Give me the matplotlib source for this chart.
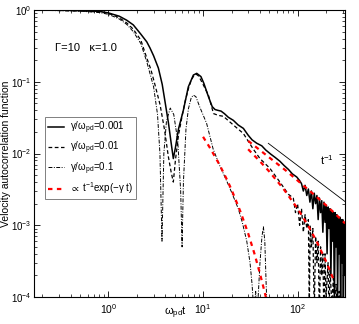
import matplotlib
matplotlib.use("Agg")
import matplotlib.pyplot as plt
from matplotlib.ticker import LogLocator, NullFormatter

plt.rcParams["font.family"] = ["Liberation Sans", "DejaVu Sans"]
plt.rcParams["mathtext.fontset"] = "custom"
plt.rcParams["mathtext.rm"] = "Liberation Sans"
plt.rcParams["mathtext.it"] = "Liberation Sans:italic"
plt.rcParams["mathtext.fallback"] = "stixsans"
plt.rcParams["font.size"] = 8

# %% data
t_solid = [0.163, 0.3, 0.5, 0.7, 0.81, 1.0, 1.3, 1.56, 1.83, 2.2, 2.54, 2.75, 3.0, 3.37, 3.7,
           3.96, 4.3, 4.6, 4.85, 5.1, 5.5, 6.19, 6.99, 7.9, 8.58, 9.5, 10.2, 11.4, 12.5, 13.4,
           14.3, 15.5, 16.8, 18.5, 20.9, 23.5, 26.7, 30, 33, 37, 41.8, 46, 52, 58, 65, 72,
           80, 88, 98, 105,
           110, 115, 120, 125, 130, 135, 140, 145, 150, 155, 160, 165, 170, 175, 180, 185,
           190, 195, 200, 205, 210, 215, 220, 225, 230, 235, 240, 245, 250, 255, 260, 265,
           270, 275, 280, 285, 290, 295, 300, 305, 310, 315, 320]
y_solid = [1.0, 0.995, 0.98, 0.965, 0.955, 0.91, 0.82, 0.72, 0.62, 0.46, 0.36, 0.295, 0.23,
           0.155, 0.092, 0.053, 0.027, 0.014, 0.0085, 0.012, 0.022, 0.040, 0.085, 0.124,
           0.131, 0.118, 0.095, 0.062, 0.045, 0.041, 0.040, 0.039, 0.036, 0.032, 0.029,
           0.025, 0.0224, 0.018, 0.0155, 0.0139, 0.0128, 0.0112, 0.0098, 0.0088, 0.0078,
           0.0068, 0.0060, 0.0052, 0.0047, 0.0042,
           0.0038, 0.0030, 0.0036, 0.0026, 0.0032, 0.0021, 0.0030, 0.0017, 0.0028, 0.0020,
           0.0026, 0.0012, 0.0024, 0.0015, 0.0022, 0.0008, 0.0021, 0.0011, 0.0019, 0.0004,
           0.0018, 0.0009, 0.0017, 0.0002, 0.0016, 0.0006, 0.0015, 0.00008, 0.0015, 0.0005,
           0.0014, 0.0001, 0.0013, 0.0004, 0.0013, 0.00007, 0.0012, 0.0003, 0.0012, 0.00005,
           0.0011, 0.0002, 0.0010]

t_dash = [0.163, 0.5, 0.81, 1.0, 1.3, 1.56, 1.83, 2.2, 2.54, 2.8, 3.1, 3.51, 3.9, 4.3, 4.6,
          4.85, 5.1, 5.5, 6.0, 6.5, 7.0, 7.5, 8.0, 8.5, 9.0, 10.0, 11.4, 12.9, 14.5, 16.4,
          20.9, 26.7, 34, 40, 51, 65, 80,
          90, 95, 100, 105, 110, 115, 120, 125, 130, 133, 136, 140, 145, 150, 155, 160,
          165, 170, 175, 180, 185, 190, 195, 200, 210, 215, 220, 230, 240, 245, 255, 265,
          275, 285, 295, 305, 318]
y_dash = [1.0, 0.975, 0.94, 0.90, 0.78, 0.66, 0.54, 0.38, 0.214, 0.15, 0.091, 0.048, 0.022,
          0.009, 0.0055, 0.004, 0.008, 0.018, 0.033, 0.055, 0.08, 0.105, 0.122, 0.127, 0.12,
          0.092, 0.065, 0.036, 0.034, 0.033, 0.025, 0.019, 0.0115, 0.0085, 0.0062, 0.0040,
          0.0027,
          0.0024, 0.0015, 0.0020, 0.0010, 0.0017, 0.0008, 0.0014, 0.0009, 0.0012, 0.00007,
          0.0010, 0.0005, 0.0009, 0.00006, 0.0007, 0.0003, 0.0006, 0.00005, 0.0005, 0.0002,
          0.0004, 0.00005, 0.0004, 0.0001, 0.0003, 0.00005, 0.00025, 0.00008, 0.0002,
          0.00004, 0.00015, 0.00005, 0.00012, 0.00004, 0.0001, 0.00003, 0.0001]

t_dashdot = [0.163, 0.5, 0.81, 1.0, 1.3, 1.56, 1.83, 2.2, 2.54, 3.0, 3.3, 3.5, 3.68, 3.85,
             4.1, 4.5, 4.9, 5.4, 5.8, 6.0, 6.2, 6.6, 7.0, 7.5, 7.9, 8.4, 9.2, 10.9, 12.8, 15,
             18, 20, 23.6, 26, 29, 31.4, 33, 34.5, 36, 37.5, 40, 42, 43.5, 45, 46.5, 48]
y_dashdot = [0.995, 0.965, 0.92, 0.87, 0.75, 0.63, 0.50, 0.34, 0.19, 0.085, 0.035, 0.01,
             0.0006, 0.01, 0.028, 0.043, 0.035, 0.015, 0.003, 0.0005, 0.004, 0.022, 0.042,
             0.060, 0.065, 0.062, 0.045, 0.0264, 0.0115, 0.0068, 0.0040, 0.0029, 0.0017,
             0.0011, 0.0006, 0.0003, 0.00015, 0.00006, 0.00012, 0.00006, 0.0003, 0.0007,
             0.00095, 0.0006, 0.00015, 0.00005]

# red fits, proportional to exp(-gamma t)/t
t_fit1 = [30, 50, 75, 100, 150, 200, 250, 318]
y_fit1 = [0.0150, 0.00883, 0.0058, 0.0042, 0.00266, 0.0019, 0.001446, 0.00106]
t_fit2 = [30, 40, 50, 70, 100, 130, 160, 200, 240]
y_fit2 = [0.01146, 0.00777, 0.00563, 0.00329, 0.00171, 0.000974, 0.000586, 0.000314, 0.000175]
t_fit3 = [10, 12, 15, 18, 20, 25, 30, 35, 40, 45, 48]
y_fit3 = [0.0171, 0.01164, 0.0069, 0.00426, 0.00314, 0.00152, 0.00077, 0.0004, 0.000212,
          0.000115, 0.0000796]

# guide line t^-1
t_guide = [49, 320]
y_guide = [0.01387, 0.002125]

# %%
fig = plt.figure(figsize=(3.59, 3.24), dpi=100)
ax = fig.add_axes([0.0947, 0.0833, 0.8666, 0.8858])

ax.plot(t_solid, y_solid, "k-", lw=1.1, label=r"γ/$\mathregular{ω_{pd}}$=0.001")
ax.plot(t_dash, y_dash, "k--", lw=0.9, dashes=(3, 2), label=r"γ/$\mathregular{ω_{pd}}$=0.01")
ax.plot(t_dashdot, y_dashdot, "k-.", lw=0.7, dashes=(4, 1.5, 1, 1.5),
        label=r"γ/$\mathregular{ω_{pd}}$=0.1")
ax.plot(t_fit1, y_fit1, "r--", lw=1.6, dashes=(2, 2),
        label=r"$\propto$ $\mathregular{t^{-1}}$exp(−γ t)")
ax.plot(t_fit2, y_fit2, "r--", lw=1.6, dashes=(2, 2))
ax.plot(t_fit3, y_fit3, "r--", lw=1.6, dashes=(2, 2))
ax.plot(t_guide, y_guide, "k-", lw=0.6)

ax.set_xscale("log")
ax.set_yscale("log")
ax.set_xlim(0.163, 318)
ax.set_ylim(1e-4, 1)

ax.yaxis.set_major_locator(LogLocator(base=10, numticks=10))
ax.yaxis.set_minor_locator(LogLocator(base=10, subs=range(2, 10), numticks=10))
ax.yaxis.set_minor_formatter(NullFormatter())
ax.xaxis.set_minor_formatter(NullFormatter())
ax.tick_params(which="both", direction="in", top=True, right=True, labelsize=7.5)
ax.tick_params(which="major", length=4, width=0.6)
ax.tick_params(which="minor", length=2, width=0.5)
ax.tick_params(axis="y", pad=2, labelsize=7)
for s in ax.spines.values():
    s.set_linewidth(0.8)

ax.text(0.272, 0.295, "Γ=10   κ=1.0", fontsize=8, va="center")
ax.text(173, 0.0081, r"$\mathregular{t^{-1}}$", fontsize=8, va="center")

ax.set_ylabel("Velocity autocorrelation function", fontsize=7.5)
ax.set_xlabel(r"$\mathregular{ω_{pd}}$t", fontsize=8)
ax.xaxis.set_label_coords(0.453, -0.025)
ax.yaxis.set_label_coords(-0.073, 0.5)

leg = ax.legend(loc="upper left", bbox_to_anchor=(0.035, 0.627), borderaxespad=0,
                fontsize=7, handlelength=1.7, handletextpad=0.6, labelspacing=0.38,
                fancybox=False, framealpha=1, borderpad=0.3)
leg.get_frame().set_edgecolor("0.5")
leg.get_frame().set_linewidth(0.7)

fig.savefig("out.png", dpi=100)
